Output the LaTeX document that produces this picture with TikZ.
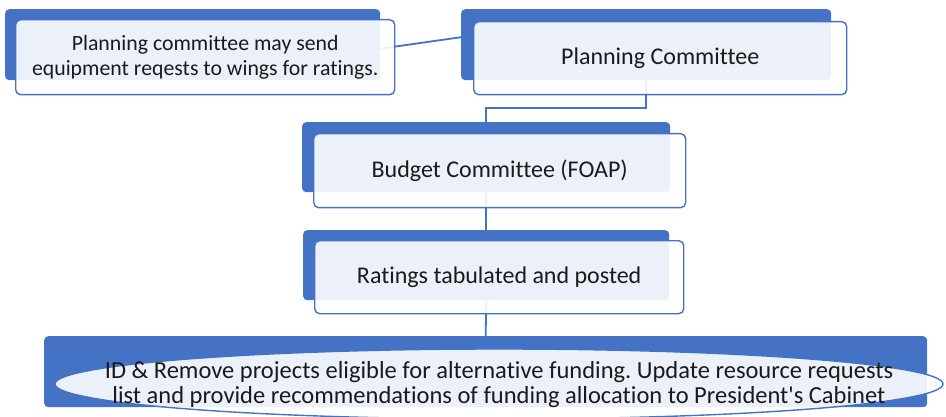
\documentclass[tikz,border=0pt]{standalone}
\usepackage{fontspec}
\setmainfont{Carlito}[Ligatures={NoCommon}]
\usetikzlibrary{shapes.geometric}
\definecolor{accent}{HTML}{4472C4}
\definecolor{txt}{HTML}{1A1A1A}
\tikzset{
  backbox/.style={draw=none, fill=accent, rounded corners=4pt, inner sep=0pt, anchor=north west},
  frontbox/.style={draw=accent, line width=1.4pt, fill=white, fill opacity=0.9, text opacity=1, rounded corners=5pt, inner sep=0pt, anchor=north west, text=txt, align=center},
  frontell/.style={ellipse, draw=accent, line width=1.4pt, fill=white, fill opacity=0.9, inner sep=0pt},
  link/.style={draw=accent, line width=1.8pt},
  big/.style={font=\fontsize{24}{25}\selectfont},
  small/.style={font=\fontsize{21.8}{25.5}\selectfont},
}
\begin{document}
\frenchspacing
\begin{tikzpicture}[x=1pt, y=-1pt]
\useasboundingbox (0,0) rectangle (946,417);
% back plates
\node[backbox, minimum width=375pt, minimum height=71pt] (b1) at (5,9) {};
\node[backbox, minimum width=370pt, minimum height=71pt] (b2) at (461,9) {};
\node[backbox, minimum width=368pt, minimum height=70pt] (b3) at (302,122) {};
\node[backbox, minimum width=366pt, minimum height=70pt] (b4) at (303,230) {};
\node[backbox, minimum width=883pt, minimum height=71pt] (b5) at (44,336) {};
% connectors
\draw[link] ([yshift=-4pt]b1.east) -- ([yshift=7.5pt]b2.west);
\draw[link] (b2.south) -- ++(0,28) -| (b3.north);
\draw[link] (b3.south) -- (b4.north);
\draw[link] (b4.south) -- (b5.north);
% front boxes
\node[frontbox, small, minimum width=379pt, minimum height=75pt] (f1) at (15,19) {Planning committee may send\\equipment reqests to wings for ratings.};
\node[frontbox, big, minimum width=373pt, minimum height=73pt] (f2) at (473,21) {Planning Committee};
\node[frontbox, big, minimum width=372pt, minimum height=74pt] (f3) at (313,133) {Budget Committee (FOAP)};
\node[frontbox, big, minimum width=369pt, minimum height=73pt] (f4) at (314,240) {Ratings tabulated and posted};
\node[frontell, minimum width=888pt, minimum height=70pt] (f5) at (499,384) {};
\node[text=txt, align=center, font=\fontsize{24.5}{25}\selectfont, inner sep=0pt] (f5t) at ([yshift=-1pt]f5.center) {ID \& Remove projects eligible for alternative funding. Update resource requests\\list and provide recommendations of funding allocation to President\textquotesingle s Cabinet};
\end{tikzpicture}
\end{document}
